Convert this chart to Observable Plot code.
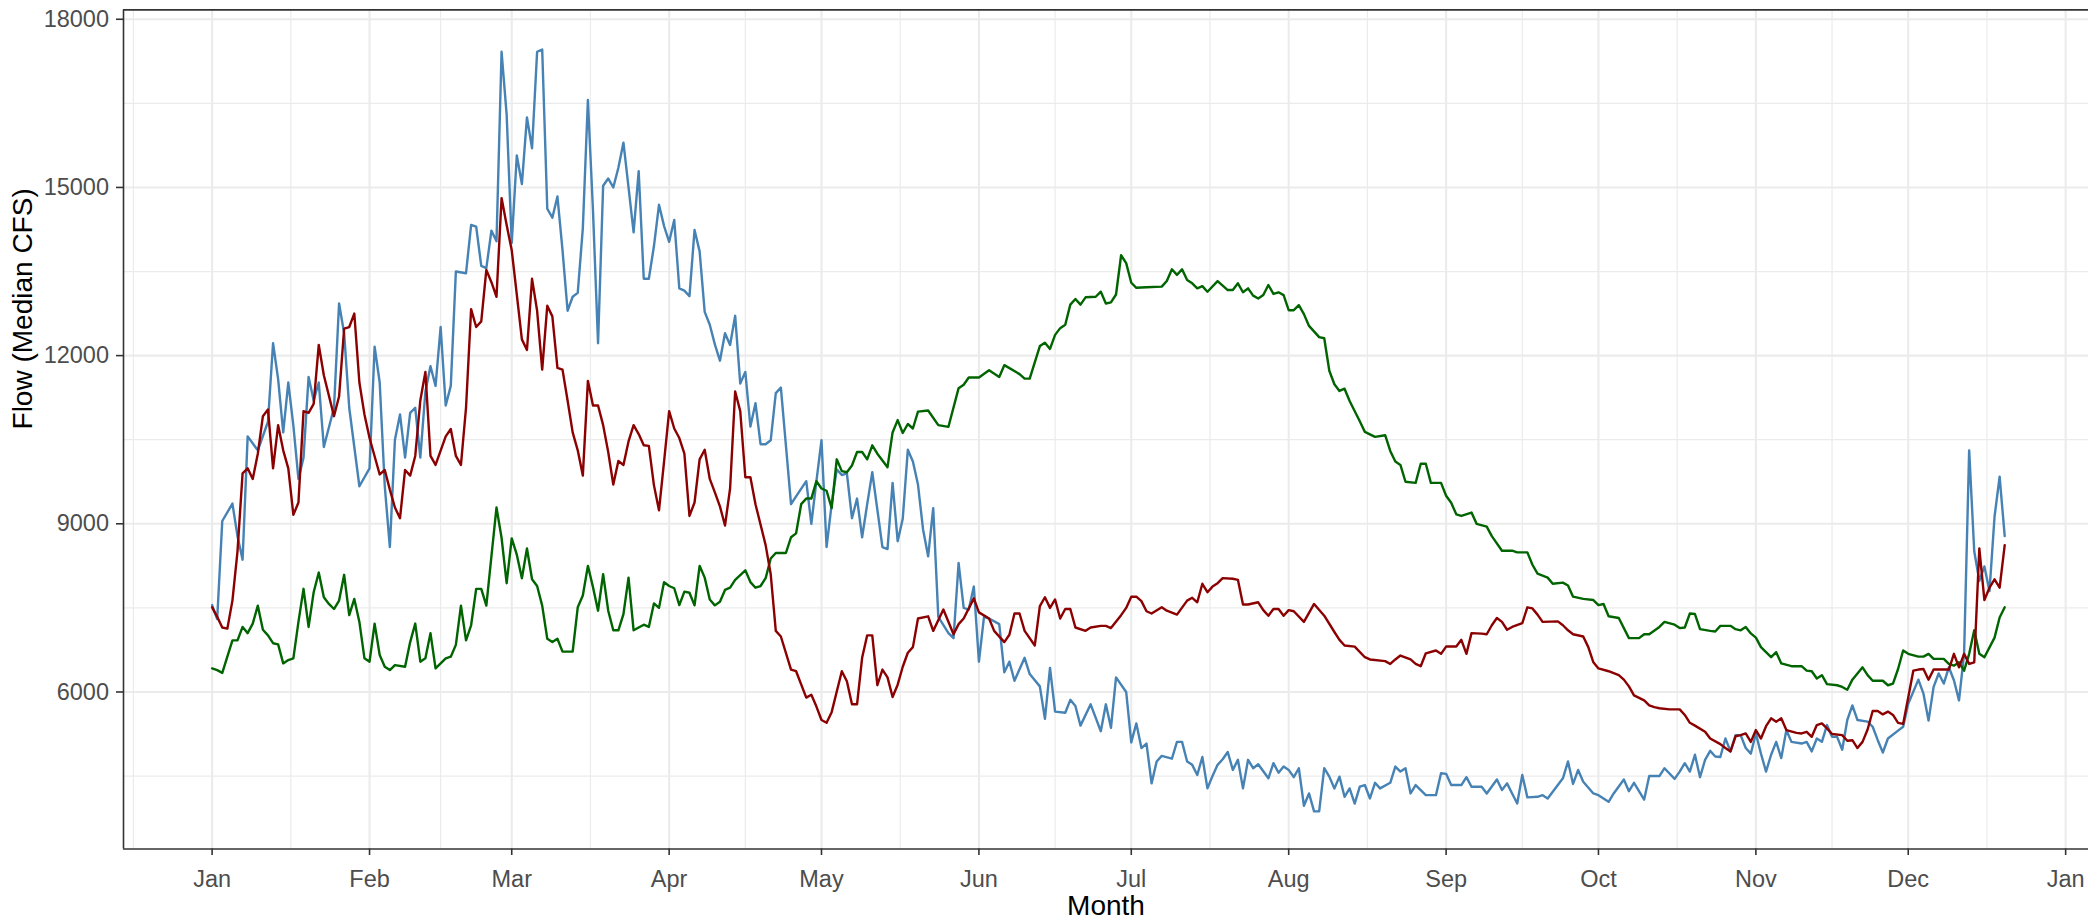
<!DOCTYPE html>
<html>
<head>
<meta charset="utf-8">
<script src="https://cdn.jsdelivr.net/npm/d3@7"></script>
<script src="https://cdn.jsdelivr.net/npm/@observablehq/plot@0.6"></script>
<style>
  html, body { margin: 0; padding: 0; background: #ffffff; }
  #chart svg { display: block; }
</style>
</head>
<body>
<div id="chart"></div>
<script>
// ---------------- data (day of year from Jan 1, median flow in CFS) ----------------
const monthLabels = ["Jan","Feb","Mar","Apr","May","Jun","Jul","Aug","Sep","Oct","Nov","Dec","Jan"];
const yTickValues = [6000, 9000, 12000, 15000, 18000];
const yMinorValues = [4500, 7500, 10500, 13500, 16500];
const xTitle = "Month";
const yTitle = "Flow (Median CFS)";

const blueSeries = [
[0,7550],[1,7300],[2,9050],[4,9360],[5,8780],[6,8360],[7,10560],[9,10310],[11,10820],[12,12220],
[13,11580],[14,10630],[15,11520],[16,10750],[17,9800],[18,10180],[19,11620],[20,11200],[21,11520],[22,10370],
[24,11070],[25,12930],[26,12400],[27,11070],[29,9670],[31,9990],[32,12160],[33,11520],[34,9670],[35,8585],
[36,10500],[37,10950],[38,10180],[39,10980],[40,11070],[41,10180],[42,11360],[43,11810],[44,11460],[45,12510],
[46,11110],[47,11460],[48,13500],[50,13470],[51,14330],[52,14300],[53,13600],[54,13560],[55,14230],[56,14040],
[57,17420],[58,16300],[59,14010],[60,15570],[61,15060],[62,16250],[63,15700],[64,17420],[65,17460],[66,14620],
[67,14460],[68,14840],[69,13880],[70,12800],[71,13050],[72,13120],[73,14270],[74,16560],[75,14590],[76,12220],
[77,15030],[78,15160],[79,15000],[80,15350],[81,15800],[82,15000],[83,14200],[84,15290],[85,13370],[86,13370],
[87,13950],[88,14690],[89,14310],[90,14030],[91,14420],[92,13200],[93,13160],[94,13060],[95,14240],[96,13860],
[97,12780],[98,12550],[99,12200],[100,11910],[101,12400],[102,12190],[103,12710],[104,11500],[105,11710],[106,10735],
[107,11150],[108,10420],[109,10420],[110,10490],[111,11330],[112,11430],[114,9350],[115,9490],[117,9760],[118,9000],
[119,9760],[120,10490],[121,8585],[122,9350],[123,9970],[124,9870],[125,9900],[126,9100],[127,9450],[128,8760],
[129,9350],[130,9920],[132,8585],[133,8550],[134,9730],[135,8690],[136,9090],[137,10320],[138,10110],[139,9700],
[140,8900],[141,8420],[142,9280],[143,7340],[145,7050],[146,6960],[147,8300],[148,7500],[149,7470],[150,7880],
[151,6540],[152,7340],[153,7310],[155,7210],[156,6350],[157,6540],[158,6200],[160,6610],[161,6320],[163,6100],
[164,5520],[165,6430],[166,5650],[168,5630],[169,5860],[170,5750],[171,5400],[173,5780],[175,5300],[176,5780],
[177,5360],[178,6260],[180,6000],[181,5100],[182,5440],[183,5000],[184,5080],[185,4370],[186,4760],[187,4860],
[189,4810],[190,5110],[191,5110],[192,4760],[193,4700],[194,4520],[195,4840],[196,4280],[197,4500],[198,4700],
[199,4800],[200,4930],[201,4610],[202,4790],[203,4280],[204,4790],[205,4640],[206,4710],[208,4460],[209,4730],
[210,4560],[211,4670],[212,4610],[213,4480],[214,4640],[215,3970],[216,4190],[217,3870],[218,3870],[219,4640],
[220,4490],[221,4280],[222,4490],[223,4130],[224,4280],[225,4010],[226,4310],[227,4340],[228,4100],[229,4380],
[230,4280],[232,4380],[233,4670],[234,4580],[235,4640],[236,4190],[237,4340],[239,4160],[241,4160],[242,4550],
[243,4540],[244,4340],[246,4340],[247,4480],[248,4310],[250,4310],[251,4190],[253,4440],[254,4250],[255,4370],
[256,4190],[257,4010],[258,4520],[259,4120],[261,4130],[262,4160],[263,4100],[265,4340],[266,4460],[267,4760],
[268,4360],[269,4610],[270,4400],[272,4190],[273,4160],[275,4040],[276,4190],[278,4440],[279,4230],[280,4380],
[282,4080],[283,4500],[285,4500],[286,4640],[288,4450],[289,4580],[290,4730],[291,4580],[292,4880],[293,4480],
[294,4790],[295,4950],[296,4850],[297,4840],[298,5170],[299,4940],[300,5230],[301,5230],[302,5000],[303,4900],
[304,5260],[305,4900],[306,4580],[307,4880],[308,5110],[309,4820],[310,5320],[311,5110],[313,5080],[314,5110],
[315,4940],[316,5170],[317,5110],[318,5410],[319,5200],[320,5200],[321,4970],[322,5500],[323,5760],[324,5500],
[326,5470],[327,5380],[328,5140],[329,4920],[330,5170],[332,5310],[333,5380],[334,5790],[336,6220],[337,5970],
[338,5490],[339,6090],[340,6330],[341,6150],[342,6440],[343,6210],[344,5850],[345,6680],[346,10310],[347,8510],
[348,7980],[349,8240],[350,7800],[351,9130],[352,9840],[353,8780]
];

const redSeries = [
[0,7510],[1,7340],[2,7150],[3,7130],[4,7630],[5,8510],[6,9900],[7,9990],[8,9800],[9,10250],
[10,10920],[11,11040],[12,9990],[13,10760],[14,10310],[15,9990],[16,9160],[17,9380],[18,11010],[19,10980],
[20,11140],[21,12190],[22,11650],[24,10920],[25,11270],[26,12480],[27,12510],[28,12750],[29,11520],[30,10950],
[31,10530],[33,9880],[34,9960],[35,9610],[36,9290],[37,9100],[38,9960],[39,9860],[40,10210],[41,11200],
[42,11710],[43,10210],[44,10050],[46,10560],[47,10690],[48,10210],[49,10050],[50,11070],[51,12830],[52,12510],
[53,12610],[54,13530],[55,13310],[56,13050],[57,14810],[58,14330],[59,13880],[60,13090],[61,12290],[62,12100],
[63,13370],[64,12800],[65,11750],[66,12890],[67,12700],[68,11780],[69,11750],[70,11200],[71,10630],[72,10310],
[73,9860],[74,11550],[75,11110],[76,11110],[77,10760],[78,10280],[79,9700],[80,10120],[81,10050],[82,10470],
[83,10760],[84,10600],[85,10400],[86,10390],[87,9690],[88,9240],[89,10110],[90,11010],[91,10700],[92,10530],
[93,10250],[94,9140],[95,9380],[96,10150],[97,10320],[98,9800],[99,9560],[100,9310],[101,8970],[102,9630],
[103,11360],[104,11010],[105,9830],[106,9830],[107,9350],[109,8620],[110,8100],[111,7090],[112,6990],[114,6400],
[115,6370],[117,5900],[118,5950],[119,5740],[120,5500],[121,5450],[122,5640],[124,6370],[125,6190],[126,5780],
[127,5780],[128,6610],[129,7010],[130,7010],[131,6120],[132,6400],[133,6260],[134,5910],[135,6130],[136,6450],
[137,6700],[138,6800],[139,7310],[141,7350],[142,7090],[144,7470],[146,7030],[147,7210],[148,7310],[150,7670],
[151,7420],[153,7310],[154,7090],[156,6890],[157,7020],[158,7400],[159,7400],[160,7090],[162,6830],[163,7530],
[164,7690],[165,7500],[166,7650],[167,7310],[168,7480],[169,7480],[170,7150],[172,7090],[173,7150],[175,7180],
[176,7180],[177,7140],[179,7370],[180,7500],[181,7700],[182,7700],[183,7620],[184,7440],[185,7400],[187,7510],
[188,7450],[190,7380],[192,7630],[193,7680],[194,7600],[195,7930],[196,7780],[197,7880],[198,7940],[199,8030],
[201,8020],[202,8000],[203,7560],[204,7560],[206,7600],[207,7460],[208,7360],[209,7480],[210,7480],[211,7360],
[212,7460],[213,7440],[215,7250],[217,7570],[219,7360],[221,7070],[222,6930],[223,6830],[225,6810],[227,6620],
[228,6580],[231,6550],[232,6500],[233,6580],[234,6650],[236,6580],[237,6500],[238,6460],[239,6690],[241,6740],
[242,6680],[243,6810],[245,6810],[246,6930],[247,6680],[248,7050],[250,7040],[251,7030],[252,7190],[253,7320],
[254,7250],[255,7110],[256,7160],[258,7230],[259,7510],[260,7490],[261,7380],[262,7250],[265,7260],[266,7190],
[267,7100],[268,7030],[270,6990],[271,6800],[272,6530],[273,6420],[275,6370],[277,6300],[278,6220],[279,6100],
[280,5940],[282,5850],[283,5760],[284,5730],[285,5710],[287,5690],[289,5690],[290,5590],[291,5450],[292,5400],
[294,5290],[295,5170],[297,5070],[298,5000],[299,4940],[300,5210],[301,5230],[302,5260],[303,5110],[304,5320],
[305,5170],[306,5390],[307,5530],[308,5470],[309,5530],[310,5320],[312,5270],[313,5260],[314,5290],[315,5200],
[316,5410],[317,5440],[318,5350],[319,5250],[321,5230],[322,5130],[323,5140],[324,5000],[325,5110],[326,5330],
[327,5660],[328,5660],[329,5600],[330,5650],[331,5590],[332,5450],[333,5430],[334,5900],[335,6380],[336,6400],
[337,6410],[338,6220],[339,6400],[340,6400],[342,6400],[343,6680],[344,6440],[345,6680],[346,6500],[347,6530],
[348,8560],[349,7640],[350,7860],[351,8010],[352,7860],[353,8620]
];

const greenSeries = [
[0,6420],[1,6390],[2,6340],[3,6630],[4,6920],[5,6920],[6,7160],[7,7050],[8,7220],[9,7540],
[10,7110],[11,7010],[12,6870],[13,6850],[14,6510],[15,6570],[16,6600],[17,7250],[18,7840],[19,7160],
[20,7780],[21,8130],[22,7690],[23,7570],[24,7480],[25,7630],[26,8090],[27,7370],[28,7660],[29,7250],
[30,6600],[31,6540],[32,7220],[33,6660],[34,6450],[35,6390],[36,6480],[38,6450],[39,6890],[40,7220],
[41,6540],[42,6600],[43,7050],[44,6420],[46,6600],[47,6630],[48,6840],[49,7540],[50,6920],[51,7190],
[52,7840],[53,7840],[54,7540],[55,8420],[56,9290],[57,8750],[58,7940],[59,8740],[60,8450],[61,8030],
[62,8560],[63,8010],[64,7890],[65,7540],[66,6950],[67,6890],[68,6950],[69,6720],[71,6720],[72,7510],
[73,7720],[74,8250],[75,7870],[76,7450],[77,8100],[78,7450],[79,7100],[80,7100],[81,7390],[82,8040],
[83,7100],[85,7200],[86,7160],[87,7580],[88,7500],[89,7960],[90,7890],[91,7850],[92,7550],[93,7790],
[94,7770],[95,7545],[96,8250],[97,8040],[98,7650],[99,7545],[100,7610],[101,7820],[102,7860],[103,8000],
[105,8170],[106,7960],[107,7860],[108,7890],[109,8030],[110,8380],[111,8480],[113,8480],[114,8760],[115,8830],
[116,9350],[117,9450],[118,9450],[119,9760],[120,9630],[121,9590],[122,9280],[123,10150],[124,9940],[125,9920],
[126,10040],[127,10280],[128,10280],[129,10150],[130,10400],[131,10250],[133,10010],[134,10630],[135,10850],[136,10620],
[137,10780],[138,10700],[139,11000],[141,11020],[143,10760],[145,10730],[147,11420],[148,11480],[149,11610],[151,11610],
[153,11740],[155,11620],[156,11830],[159,11670],[160,11590],[161,11590],[163,12170],[164,12230],[165,12120],[166,12370],
[167,12490],[168,12550],[169,12910],[170,13010],[171,12910],[172,13040],[174,13050],[175,13140],[176,12930],[177,12950],
[178,13090],[179,13790],[180,13650],[181,13300],[182,13210],[184,13220],[187,13230],[188,13330],[189,13540],[190,13440],
[191,13540],[192,13350],[193,13290],[194,13200],[195,13240],[196,13140],[198,13330],[200,13170],[201,13170],[202,13290],
[203,13130],[204,13200],[205,13070],[206,13020],[207,13080],[208,13260],[209,13100],[210,13130],[211,13080],[212,12810],
[213,12810],[214,12900],[215,12740],[216,12530],[218,12330],[219,12310],[220,11730],[221,11490],[222,11370],[223,11410],
[224,11190],[226,10830],[227,10640],[229,10550],[231,10580],[232,10300],[233,10110],[234,10050],[235,9750],[237,9730],
[238,10070],[239,10070],[240,9730],[242,9730],[243,9500],[244,9375],[245,9170],[246,9140],[248,9200],[249,9000],
[251,8950],[252,8780],[254,8520],[256,8520],[257,8490],[259,8490],[260,8270],[261,8110],[263,8040],[264,7930],
[266,7950],[267,7900],[268,7700],[270,7660],[272,7640],[273,7550],[274,7570],[275,7350],[277,7320],[279,6960],
[281,6960],[282,7030],[283,7030],[285,7160],[286,7250],[288,7200],[289,7140],[290,7150],[291,7400],[292,7390],
[293,7120],[295,7090],[296,7080],[297,7180],[299,7180],[300,7120],[301,7100],[302,7160],[303,7045],[304,6970],
[305,6800],[307,6620],[308,6710],[309,6510],[311,6460],[313,6460],[314,6380],[315,6370],[316,6240],[317,6300],
[318,6140],[320,6120],[321,6090],[322,6040],[323,6220],[325,6440],[326,6300],[327,6200],[329,6200],[330,6120],
[331,6150],[332,6410],[333,6740],[334,6680],[336,6630],[337,6630],[338,6680],[339,6590],[341,6590],[342,6500],
[343,6470],[344,6530],[345,6380],[346,6680],[347,7100],[348,6680],[349,6620],[351,6970],[352,7330],[353,7510]
];

// ---------------- build ----------------
const DAY = 864e5;
const base = Date.UTC(2021, 0, 1);
const toDate = d => new Date(base + d * DAY);
const rowsOf = s => s.map(([d, v]) => ({date: toDate(d), flow: v}));

const monthStarts = monthLabels.map((_, i) => new Date(Date.UTC(2021, i, 1)));
const labelByTime = new Map(monthStarts.map((d, i) => [+d, monthLabels[i]]));
const minorX = d3.range(-1, 12).map(m => new Date((Date.UTC(2021, m, 1) + Date.UTC(2021, m + 1, 1)) / 2));

const xDomain = [toDate(-17.45), toDate(369.5)];
const yDomain = [3199, 18167];
const minorXIn = minorX.filter(d => d >= xDomain[0] && d <= xDomain[1]);

const FONT = "'Liberation Sans', Arial, Helvetica, sans-serif";
const gridColor = "#EBEBEB";
const borderColor = "#333333";

const chart = Plot.plot({
  width: 2088,
  height: 922,
  marginLeft: 123,
  marginRight: 0,
  marginTop: 9.4,
  marginBottom: 73.5,
  style: {fontFamily: FONT, background: "#ffffff", overflow: "visible"},
  x: {type: "utc", domain: xDomain},
  y: {domain: yDomain},
  marks: [
    Plot.ruleX(minorXIn, {stroke: gridColor, strokeWidth: 1.2}),
    Plot.ruleY(yMinorValues, {stroke: gridColor, strokeWidth: 1.2}),
    Plot.ruleX(monthStarts, {stroke: gridColor, strokeWidth: 2.1}),
    Plot.ruleY(yTickValues, {stroke: gridColor, strokeWidth: 2.1}),
    Plot.line(rowsOf(blueSeries), {x: "date", y: "flow", stroke: "#4682B4", strokeWidth: 2.4}),
    Plot.line(rowsOf(greenSeries), {x: "date", y: "flow", stroke: "#006400", strokeWidth: 2.4}),
    Plot.line(rowsOf(redSeries), {x: "date", y: "flow", stroke: "#8B0000", strokeWidth: 2.4}),
    Plot.ruleX([xDomain[0]], {stroke: borderColor, strokeWidth: 1.6}),
    Plot.ruleY(yDomain, {stroke: borderColor, strokeWidth: 1.6}),
    Plot.axisX({ticks: monthStarts, tickSize: 6.5, tickFormat: () => "", color: borderColor, strokeWidth: 1.6, label: null}),
    Plot.axisX({ticks: monthStarts, tickSize: 0, tickPadding: 21.5, tickFormat: d => labelByTime.get(+d),
                color: "#4D4D4D", fontSize: 23.5, fontFamily: FONT, label: null}),
    Plot.axisY({ticks: yTickValues, tickSize: 7, tickFormat: () => "", color: borderColor, strokeWidth: 1.6, label: null}),
    Plot.axisY({ticks: yTickValues, tickSize: 0, tickPadding: 14.5, tickFormat: d => String(d),
                color: "#4D4D4D", fontSize: 23.5, fontFamily: FONT, label: null}),
    Plot.text([xTitle], {text: d => d, frameAnchor: "bottom", dy: 57, lineAnchor: "middle",
                         fontSize: 28, fontFamily: FONT, fill: "#000000"}),
    Plot.text([yTitle], {text: d => d, frameAnchor: "left", dx: -100.5, rotate: -90, lineAnchor: "middle",
                         fontSize: 28, fontFamily: FONT, fill: "#000000"})
  ]
});

document.getElementById("chart").appendChild(chart);
</script>
</body>
</html>
